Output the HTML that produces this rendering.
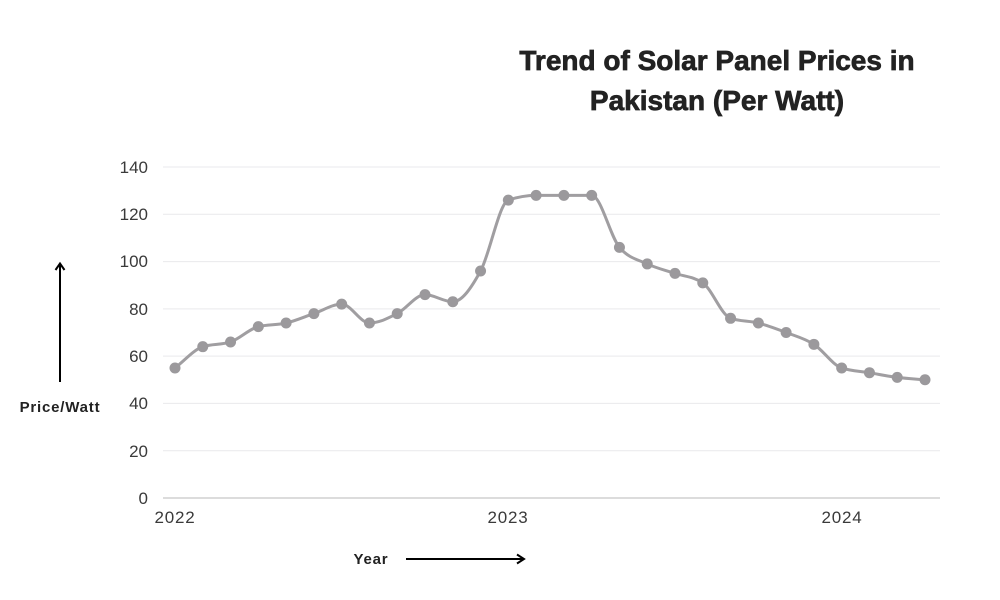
<!DOCTYPE html>
<html>
<head>
<meta charset="utf-8">
<style>
  html,body{margin:0;padding:0;background:#fff;}
  body{width:1000px;height:600px;overflow:hidden;}
  svg{display:block;}
  .tick{font-family:"Liberation Sans",sans-serif;font-size:17px;fill:#3a3a3a;}
  .xt{letter-spacing:0.8px;}
  .title{font-family:"Liberation Sans",sans-serif;font-weight:bold;font-size:28px;fill:#222;stroke:#222;stroke-width:0.7px;}
  .lab{font-family:"Liberation Sans",sans-serif;font-weight:bold;font-size:15px;fill:#222;letter-spacing:0.8px;}
</style>
</head>
<body>
<svg id="chart" width="1000" height="600" viewBox="0 0 1000 600" xmlns="http://www.w3.org/2000/svg">
  <rect width="1000" height="600" fill="#fff"/>
  <!-- title -->
  <text class="title" x="717" y="70" text-anchor="middle">Trend of Solar Panel Prices in</text>
  <text class="title" x="717" y="110" text-anchor="middle">Pakistan (Per Watt)</text>

  <!-- gridlines -->
  <g stroke="#e9e9ec" stroke-width="1">
    <line x1="163" y1="167" x2="940" y2="167"/>
    <line x1="163" y1="214.3" x2="940" y2="214.3"/>
    <line x1="163" y1="261.6" x2="940" y2="261.6"/>
    <line x1="163" y1="308.9" x2="940" y2="308.9"/>
    <line x1="163" y1="356.1" x2="940" y2="356.1"/>
    <line x1="163" y1="403.4" x2="940" y2="403.4"/>
    <line x1="163" y1="450.7" x2="940" y2="450.7"/>
  </g>
  <line x1="163" y1="498" x2="940" y2="498" stroke="#c6c6c8" stroke-width="1.2"/>

  <!-- y ticks -->
  <g class="tick" text-anchor="end">
    <text x="148" y="173">140</text>
    <text x="148" y="220">120</text>
    <text x="148" y="267">100</text>
    <text x="148" y="315">80</text>
    <text x="148" y="362">60</text>
    <text x="148" y="409">40</text>
    <text x="148" y="457">20</text>
    <text x="148" y="504">0</text>
  </g>
  <!-- x ticks -->
  <g class="tick xt" text-anchor="middle">
    <text x="175" y="523">2022</text>
    <text x="508" y="523">2023</text>
    <text x="842" y="523">2024</text>
  </g>

  <!-- axis labels & arrows -->
  <text class="lab" x="60" y="412" text-anchor="middle">Price/Watt</text>
  <line x1="60" y1="382" x2="60" y2="264" stroke="#000" stroke-width="2"/>
  <polyline points="55.5,270 60,263.5 64.5,270" fill="none" stroke="#000" stroke-width="2"/>

  <text class="lab" x="371" y="564" text-anchor="middle">Year</text>
  <line x1="406" y1="559" x2="523" y2="559" stroke="#000" stroke-width="2"/>
  <polyline points="517,554.5 524,559 517,563.5" fill="none" stroke="#000" stroke-width="2"/>

  <g id="series"></g>
</svg>
<script>
(function(){
  var vals=[55,64,66,72.5,74,78,82,74,78,86,83,96,126,128,128,128,106,99,95,91,76,74,70,65,55,53,51,50];
  var n=vals.length, xs=[], ys=[];
  for(var i=0;i<n;i++){xs.push(175+i*27.778);ys.push(498-vals[i]*2.3643);}
  function sign(x){return x<0?-1:1;}
  var s=[],t=[];
  for(i=0;i<n-1;i++){s.push((ys[i+1]-ys[i])/(xs[i+1]-xs[i]));}
  t[0]=s[0]; t[n-1]=s[n-2];
  for(i=1;i<n-1;i++){
    var h0=xs[i]-xs[i-1],h1=xs[i+1]-xs[i],s0=s[i-1],s1=s[i];
    var p=(s0*h1+s1*h0)/(h0+h1);
    t[i]=(sign(s0)+sign(s1))*Math.min(Math.abs(s0),Math.abs(s1),0.5*Math.abs(p))||0;
  }
  var d="M"+xs[0].toFixed(2)+","+ys[0].toFixed(2);
  for(i=0;i<n-1;i++){
    var dx=(xs[i+1]-xs[i])/3;
    d+="C"+(xs[i]+dx).toFixed(2)+","+(ys[i]+dx*t[i]).toFixed(2)+" "+(xs[i+1]-dx).toFixed(2)+","+(ys[i+1]-dx*t[i+1]).toFixed(2)+" "+xs[i+1].toFixed(2)+","+ys[i+1].toFixed(2);
  }
  var ns="http://www.w3.org/2000/svg", g=document.getElementById("series");
  var path=document.createElementNS(ns,"path");
  path.setAttribute("d",d);path.setAttribute("fill","none");
  path.setAttribute("stroke","#a09ea1");path.setAttribute("stroke-width","3");
  path.setAttribute("stroke-linejoin","round");
  g.appendChild(path);
  for(i=0;i<n;i++){
    var c=document.createElementNS(ns,"circle");
    c.setAttribute("cx",xs[i].toFixed(2));c.setAttribute("cy",ys[i].toFixed(2));
    c.setAttribute("r","5.5");c.setAttribute("fill","#9b999c");
    g.appendChild(c);
  }
})();
</script>
</body>
</html>
